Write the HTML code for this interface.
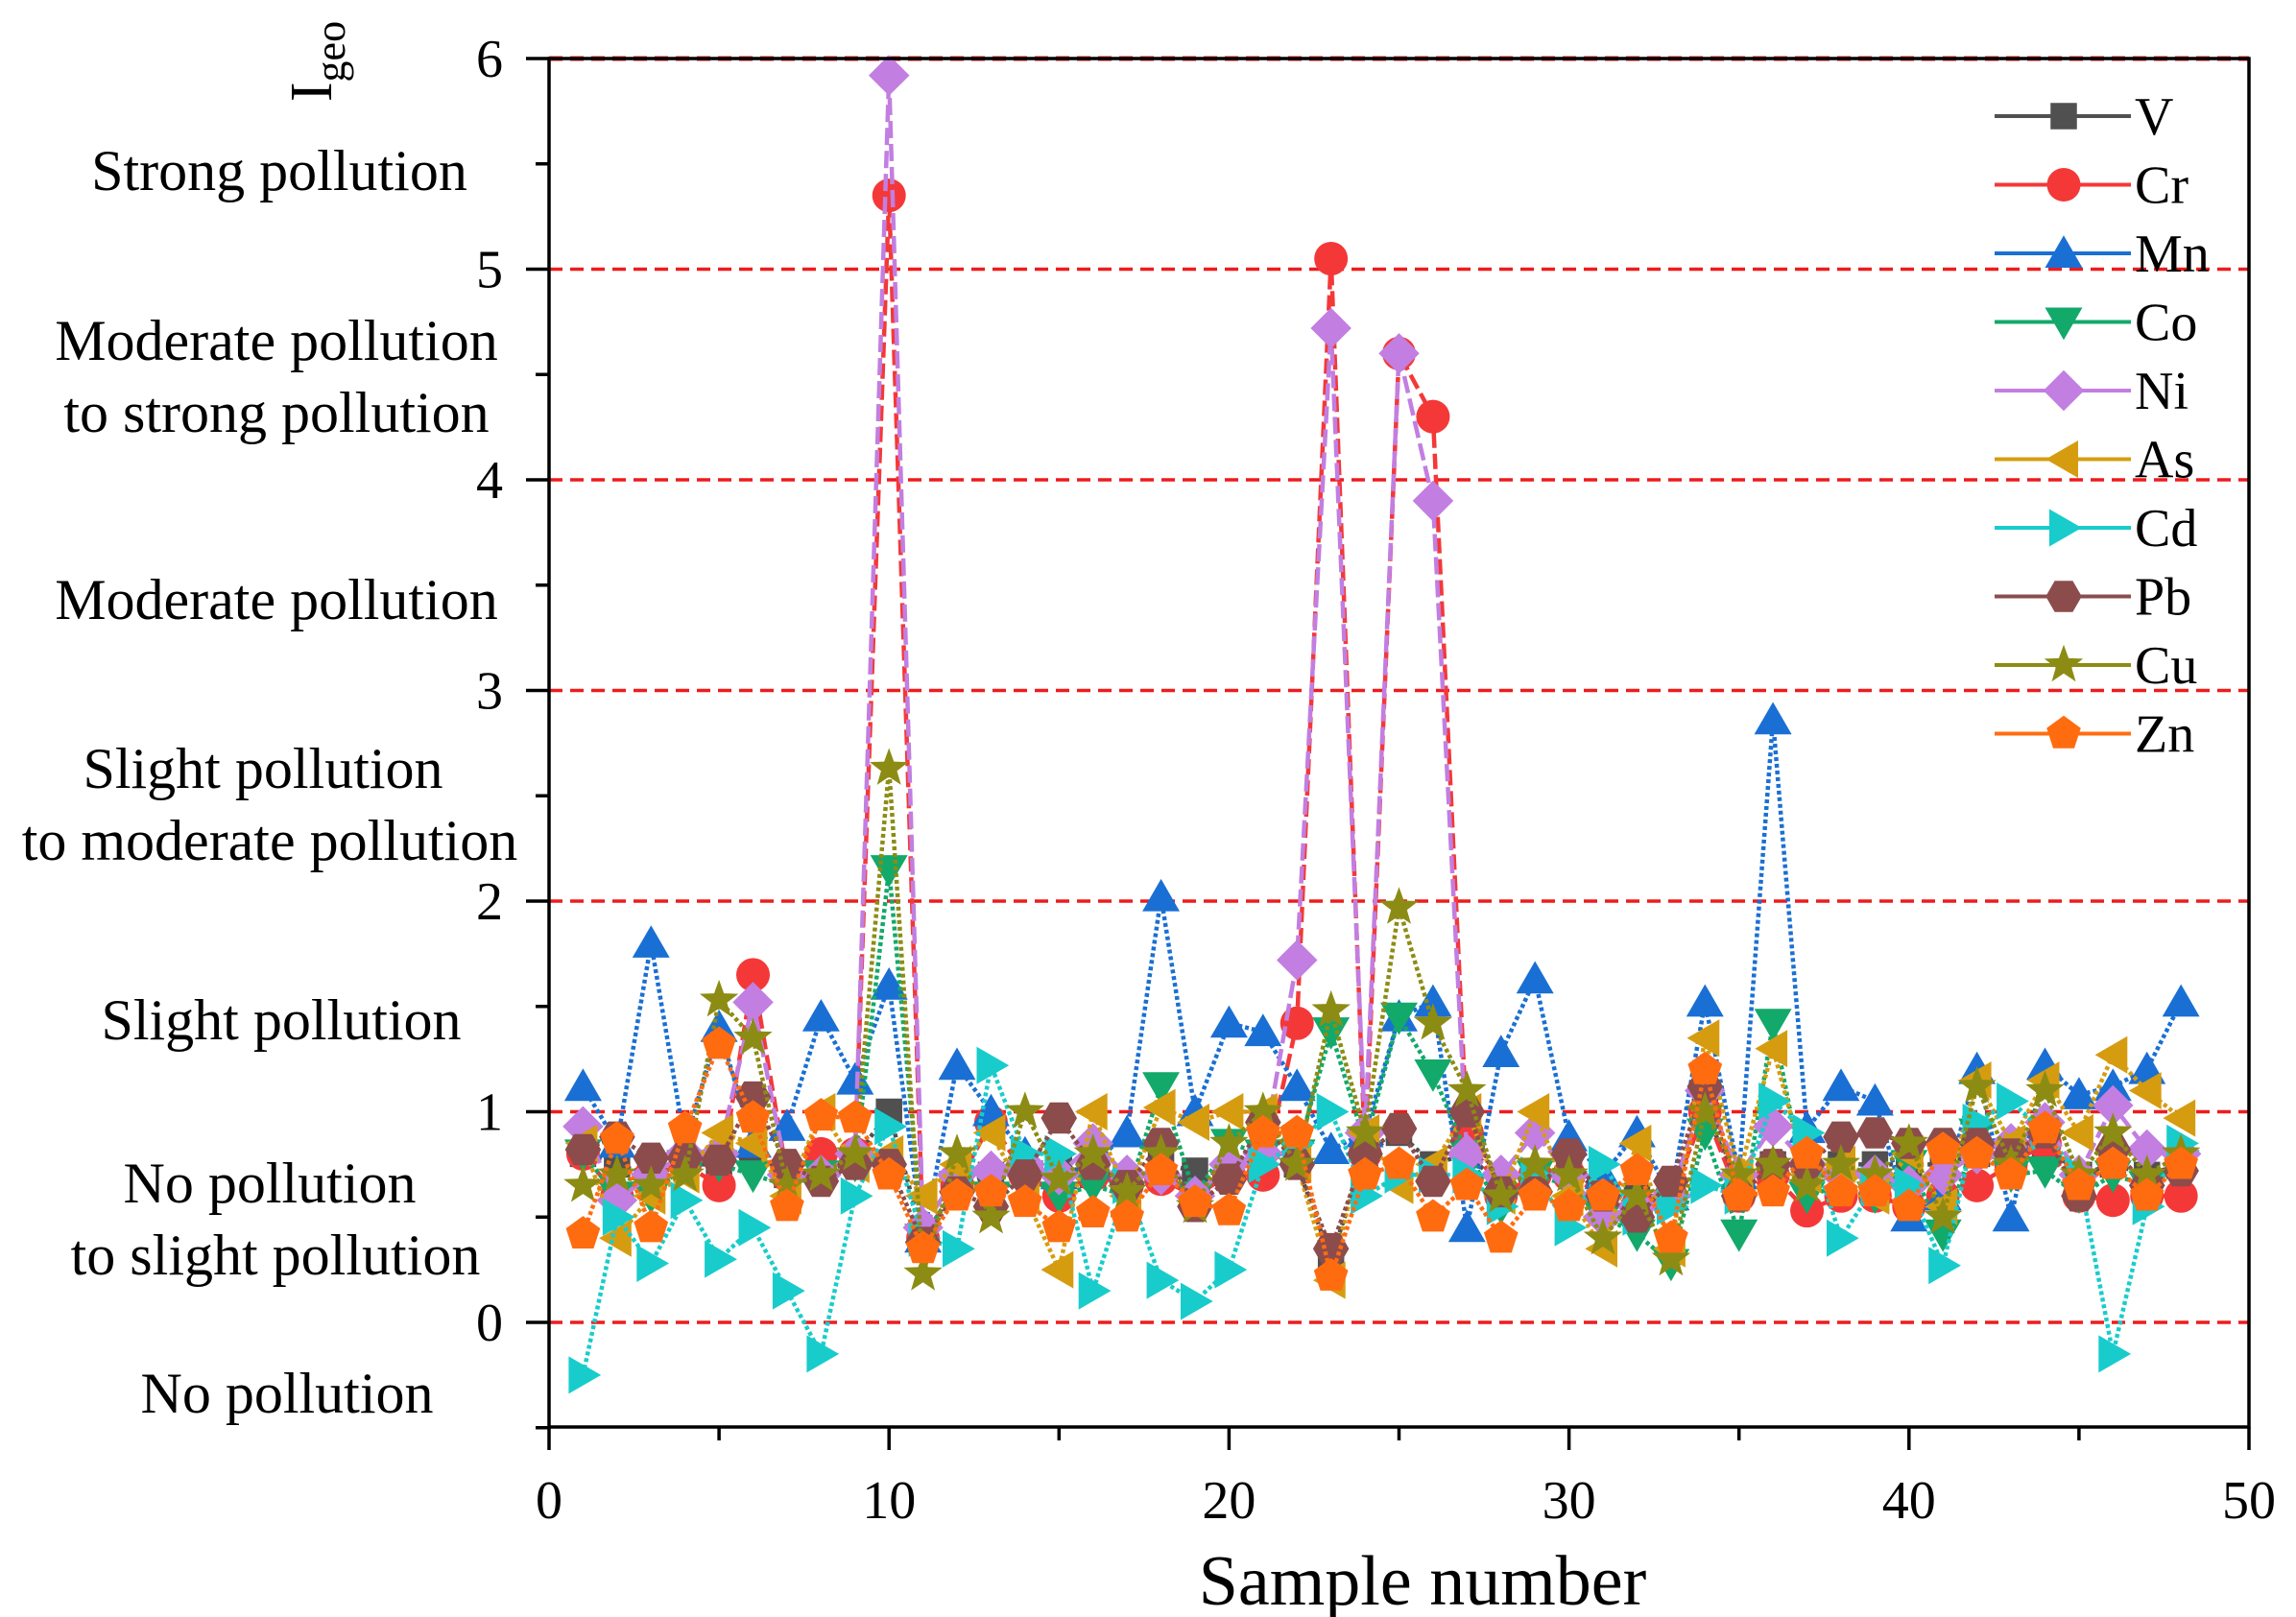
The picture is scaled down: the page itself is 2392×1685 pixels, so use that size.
<!DOCTYPE html>
<html><head><meta charset="utf-8"><style>
html,body{margin:0;padding:0;background:#fff}
svg{display:block;font-family:"Liberation Serif",serif}
</style></head><body>
<svg id="chart" width="2392" height="1685" viewBox="0 0 2392 1685" xmlns="http://www.w3.org/2000/svg">
<g id="grid"></g>
<g id="series"></g>
<g id="axes"></g>
<g id="labels"></g>
<g id="legend"></g>
</svg>
<script>
const xTicks=[0,10,20,30,40,50];
const yTicks=[0,1,2,3,4,5,6];
const seriesNames=["V","Cr","Mn","Co","Ni","As","Cd","Pb","Cu","Zn"];
const V=[0.8,0.75,0.7,0.75,0.75,0.8,0.7,0.7,0.78,1.0,0.4,0.65,0.7,0.7,0.75,0.7,0.65,0.75,0.72,0.7,0.8,0.75,0.3,0.8,0.9,0.75,0.8,0.65,0.7,0.75,0.6,0.6,0.6,1.0,0.65,0.75,0.7,0.75,0.75,0.75,0.75,0.8,0.8,0.85,0.7,0.75,0.7,0.75];
const Cr=[0.8,0.6,0.7,0.75,0.65,1.65,0.7,0.8,0.8,5.35,0.4,0.65,0.95,0.7,0.6,0.7,0.65,0.68,0.6,0.7,0.7,1.42,5.05,0.8,4.6,4.3,0.9,0.6,0.7,0.7,0.6,0.55,0.6,1.0,0.6,0.7,0.53,0.6,0.6,0.55,0.6,0.65,0.75,0.85,0.6,0.58,0.6,0.6];
const Mn=[1.12,0.85,1.8,0.85,1.4,0.85,0.93,1.45,1.15,1.6,0.4,1.22,1.0,0.8,0.7,0.75,0.9,2.02,1.0,1.42,1.38,1.12,0.82,0.9,1.45,1.52,0.45,1.28,1.63,0.88,0.7,0.9,0.6,1.52,0.7,2.86,0.92,1.12,1.05,0.5,0.6,1.2,0.5,1.22,1.08,1.12,1.2,1.52];
const Co=[0.8,0.6,0.6,0.75,0.75,0.7,0.65,0.7,0.75,2.15,0.4,0.65,0.6,0.7,0.6,0.65,0.6,1.12,0.6,0.85,0.8,0.8,1.38,0.85,1.45,1.18,0.8,0.55,0.7,0.65,0.5,0.42,0.28,0.9,0.42,1.42,0.6,0.65,0.6,0.75,0.42,0.9,0.7,0.72,0.6,0.7,0.65,0.75];
const Ni=[0.93,0.58,0.7,0.8,0.8,1.52,0.7,0.7,0.8,5.92,0.45,0.7,0.72,0.75,0.7,0.85,0.7,0.7,0.6,0.75,0.8,1.72,4.72,0.9,4.6,3.9,0.8,0.7,0.9,0.7,0.5,0.55,0.6,1.1,0.7,0.93,0.75,0.7,0.7,0.65,0.7,0.8,0.85,0.95,0.7,1.03,0.82,0.8];
const As=[0.85,0.4,0.6,0.7,0.9,0.85,0.6,1.0,0.75,0.8,0.6,0.75,0.9,0.6,0.25,1.0,0.6,1.02,0.95,1.0,1.0,0.75,0.2,0.9,0.65,0.75,1.0,0.6,1.0,0.6,0.35,0.85,0.35,1.35,0.7,1.3,0.7,0.75,0.6,0.8,0.55,1.15,0.85,1.15,0.9,1.27,1.1,0.97];
const Cd=[-0.25,0.5,0.28,0.58,0.3,0.45,0.15,-0.15,0.6,0.93,0.4,0.35,1.22,0.8,0.8,0.15,0.65,0.2,0.1,0.25,0.75,0.85,1.0,0.6,0.7,0.7,0.7,0.55,0.7,0.45,0.75,0.5,0.55,0.65,0.6,1.05,0.9,0.4,0.65,0.65,0.27,0.95,1.05,0.9,0.7,-0.15,0.55,0.85];
const Pb=[0.82,0.88,0.78,0.78,0.77,1.07,0.75,0.67,0.75,0.75,0.38,0.62,0.55,0.7,0.97,0.75,0.65,0.85,0.55,0.68,0.95,0.75,0.35,0.8,0.92,0.67,1.0,0.62,0.62,0.8,0.6,0.5,0.67,1.12,0.6,0.75,0.75,0.88,0.9,0.85,0.85,0.85,0.8,0.9,0.6,0.82,0.65,0.72];
const Cu=[0.65,0.7,0.65,0.7,1.53,1.35,0.65,0.7,0.8,2.63,0.23,0.8,0.5,1.0,0.68,0.8,0.62,0.8,0.55,0.85,1.0,0.75,1.48,0.9,1.97,1.42,1.1,0.6,0.75,0.7,0.4,0.6,0.3,1.0,0.7,0.75,0.65,0.75,0.7,0.85,0.5,1.12,0.75,1.1,0.7,0.9,0.7,0.8];
const Zn=[0.42,0.87,0.45,0.92,1.32,0.97,0.55,0.98,0.97,0.7,0.35,0.6,0.62,0.57,0.45,0.52,0.5,0.72,0.57,0.53,0.9,0.9,0.22,0.7,0.75,0.5,0.65,0.4,0.6,0.55,0.6,0.72,0.4,1.2,0.6,0.62,0.8,0.62,0.62,0.55,0.82,0.8,0.7,0.92,0.65,0.75,0.6,0.75];
const allData=[V,Cr,Mn,Co,Ni,As,Cd,Pb,Cu,Zn];
const styles=[
 {c:"#505050",m:"square",d:"4 4"},
 {c:"#f43838",m:"circle",d:"16 6"},
 {c:"#1a6fd4",m:"tri-up",d:"4 3"},
 {c:"#12a96a",m:"tri-down",d:"4 3"},
 {c:"#c27ee0",m:"diamond",d:"18 6"},
 {c:"#d69c10",m:"tri-left",d:"4 3"},
 {c:"#18cccc",m:"tri-right",d:"4 3"},
 {c:"#8c4c4c",m:"hex",d:"4 3"},
 {c:"#8c8c14",m:"star",d:"4 3"},
 {c:"#ff6c10",m:"pent",d:"4 3"}];
const NS="http://www.w3.org/2000/svg";
const X0=572,X1=2343,YT=61,YB=1487;
const MS=1.25;
function sx(v){return X0+(v-0)/(50-0)*(X1-X0);}
function sy(v){return 1378-(v-0)*(1378-61)/6;}
function mk(tag,attrs,parent){const e=document.createElementNS(NS,tag);for(const k in attrs)e.setAttribute(k,attrs[k]);parent.appendChild(e);return e;}
function poly(n,r,rot,cx,cy){let p=[];for(let i=0;i<n;i++){const a=rot+i*2*Math.PI/n;p.push((cx+r*Math.cos(a)).toFixed(1)+","+(cy+r*Math.sin(a)).toFixed(1));}return p.join(" ");}
function marker(type,cx,cy,col,parent,s){
 s=s||MS;let e;
 if(type==="square")e=mk("rect",{x:cx-11*s,y:cy-11*s,width:22*s,height:22*s,fill:col},parent);
 else if(type==="circle")e=mk("circle",{cx:cx,cy:cy,r:14*s,fill:col},parent);
 else if(type==="tri-up")e=mk("polygon",{points:poly(3,18*s,-Math.PI/2,cx,cy+3*s),fill:col},parent);
 else if(type==="tri-down")e=mk("polygon",{points:poly(3,18*s,Math.PI/2,cx,cy-3*s),fill:col},parent);
 else if(type==="tri-left")e=mk("polygon",{points:poly(3,18*s,Math.PI,cx+3*s,cy),fill:col},parent);
 else if(type==="tri-right")e=mk("polygon",{points:poly(3,18*s,0,cx-3*s,cy),fill:col},parent);
 else if(type==="diamond")e=mk("polygon",{points:poly(4,17*s,0,cx,cy),fill:col},parent);
 else if(type==="hex")e=mk("polygon",{points:poly(6,15*s,0,cx,cy),fill:col},parent);
 else if(type==="pent")e=mk("polygon",{points:poly(5,15*s,-Math.PI/2,cx,cy),fill:col},parent);
 else if(type==="star"){let p=[];for(let i=0;i<10;i++){const r=i%2?7*s:17*s;const a=-Math.PI/2+i*Math.PI/5;p.push((cx+r*Math.cos(a)).toFixed(1)+","+(cy+r*Math.sin(a)).toFixed(1));}e=mk("polygon",{points:p.join(" "),fill:col},parent);}
 return e;
}
const grid=document.getElementById("grid");
yTicks.forEach(t=>{
 const l=mk("line",{x1:X0,x2:X1,y1:sy(t),y2:sy(t),stroke:"#ee1c1c","stroke-width":t===6?5:3.5,"stroke-dasharray":"14 8"},grid);
 
 
});
const sg=document.getElementById("series");
allData.forEach((arr,si)=>{
 const g=mk("g",{},sg);
 
 
 const st=styles[si];
 const pts=arr.map((v,i)=>sx(i+1).toFixed(1)+","+sy(v).toFixed(1)).join(" ");
 const pl=mk("polyline",{points:pts,fill:"none",stroke:st.c,"stroke-width":4.5,"stroke-dasharray":st.d},g);
 
 
 arr.forEach((v,i)=>{
  const m=marker(st.m,sx(i+1),sy(v),st.c,g);
  
  
 });
});
const ax=document.getElementById("axes");
const frame=mk("rect",{x:X0,y:YT,width:X1-X0,height:YB-YT,fill:"none",stroke:"#000","stroke-width":3.5},ax);


for(let v=-0.5;v<=6.01;v+=0.5){
 const major=Math.abs(v-Math.round(v))<1e-6&&v>=0;
 mk("line",{x1:X0-(major?24:14),x2:X0,y1:sy(v),y2:sy(v),stroke:"#000","stroke-width":3.5},ax);
}
yTicks.forEach(t=>{
 const tx=mk("text",{x:524,y:sy(t)+19,"text-anchor":"end","font-size":56,fill:"#000"},ax);
 tx.textContent=t;
 
 
});
for(let v=0;v<=50;v+=5){
 const major=v%10===0;
 mk("line",{x1:sx(v),x2:sx(v),y1:YB,y2:YB+(major?24:14),stroke:"#000","stroke-width":3.5},ax);
}
xTicks.forEach(t=>{
 const tx=mk("text",{x:sx(t),y:1582,"text-anchor":"middle","font-size":56,fill:"#000"},ax);
 tx.textContent=t;
 
 
});
const xt=mk("text",{x:1482,y:1672,"text-anchor":"middle","font-size":74,fill:"#000"},ax);
xt.textContent="Sample number";


const yt=mk("text",{x:0,y:0,"text-anchor":"middle","font-size":62,fill:"#000",transform:"translate(345,64) rotate(-90)"},ax);
yt.innerHTML='I<tspan font-size="44" dy="14">geo</tspan>';


const lbl=document.getElementById("labels");
const classLabels=[["Strong pollution",291,198],["Moderate pollution",288,375],["to strong pollution",288,450],["Moderate pollution",288,645],["Slight pollution",274,821],["to moderate pollution",281,896],["Slight pollution",293,1083],["No pollution",281,1253],["to slight pollution",287,1328],["No pollution",299,1472]];
classLabels.forEach((c,i)=>{
 const t=mk("text",{x:c[1],y:c[2],"text-anchor":"middle","font-size":60,fill:"#000"},lbl);
 t.textContent=c[0];
 
 
});
const lg=document.getElementById("legend");
seriesNames.forEach((n,i)=>{
 const y=121+71.5*i;const st=styles[i];
 const g=mk("g",{},lg);
 
 
 mk("line",{x1:2078,x2:2220,y1:y,y2:y,stroke:st.c,"stroke-width":4},g);
 marker(st.m,2150,y,st.c,g);
 const t=mk("text",{x:2224,y:y+19,"font-size":56,fill:"#000"},g);
 t.textContent=n;
});
</script>
</body></html>
